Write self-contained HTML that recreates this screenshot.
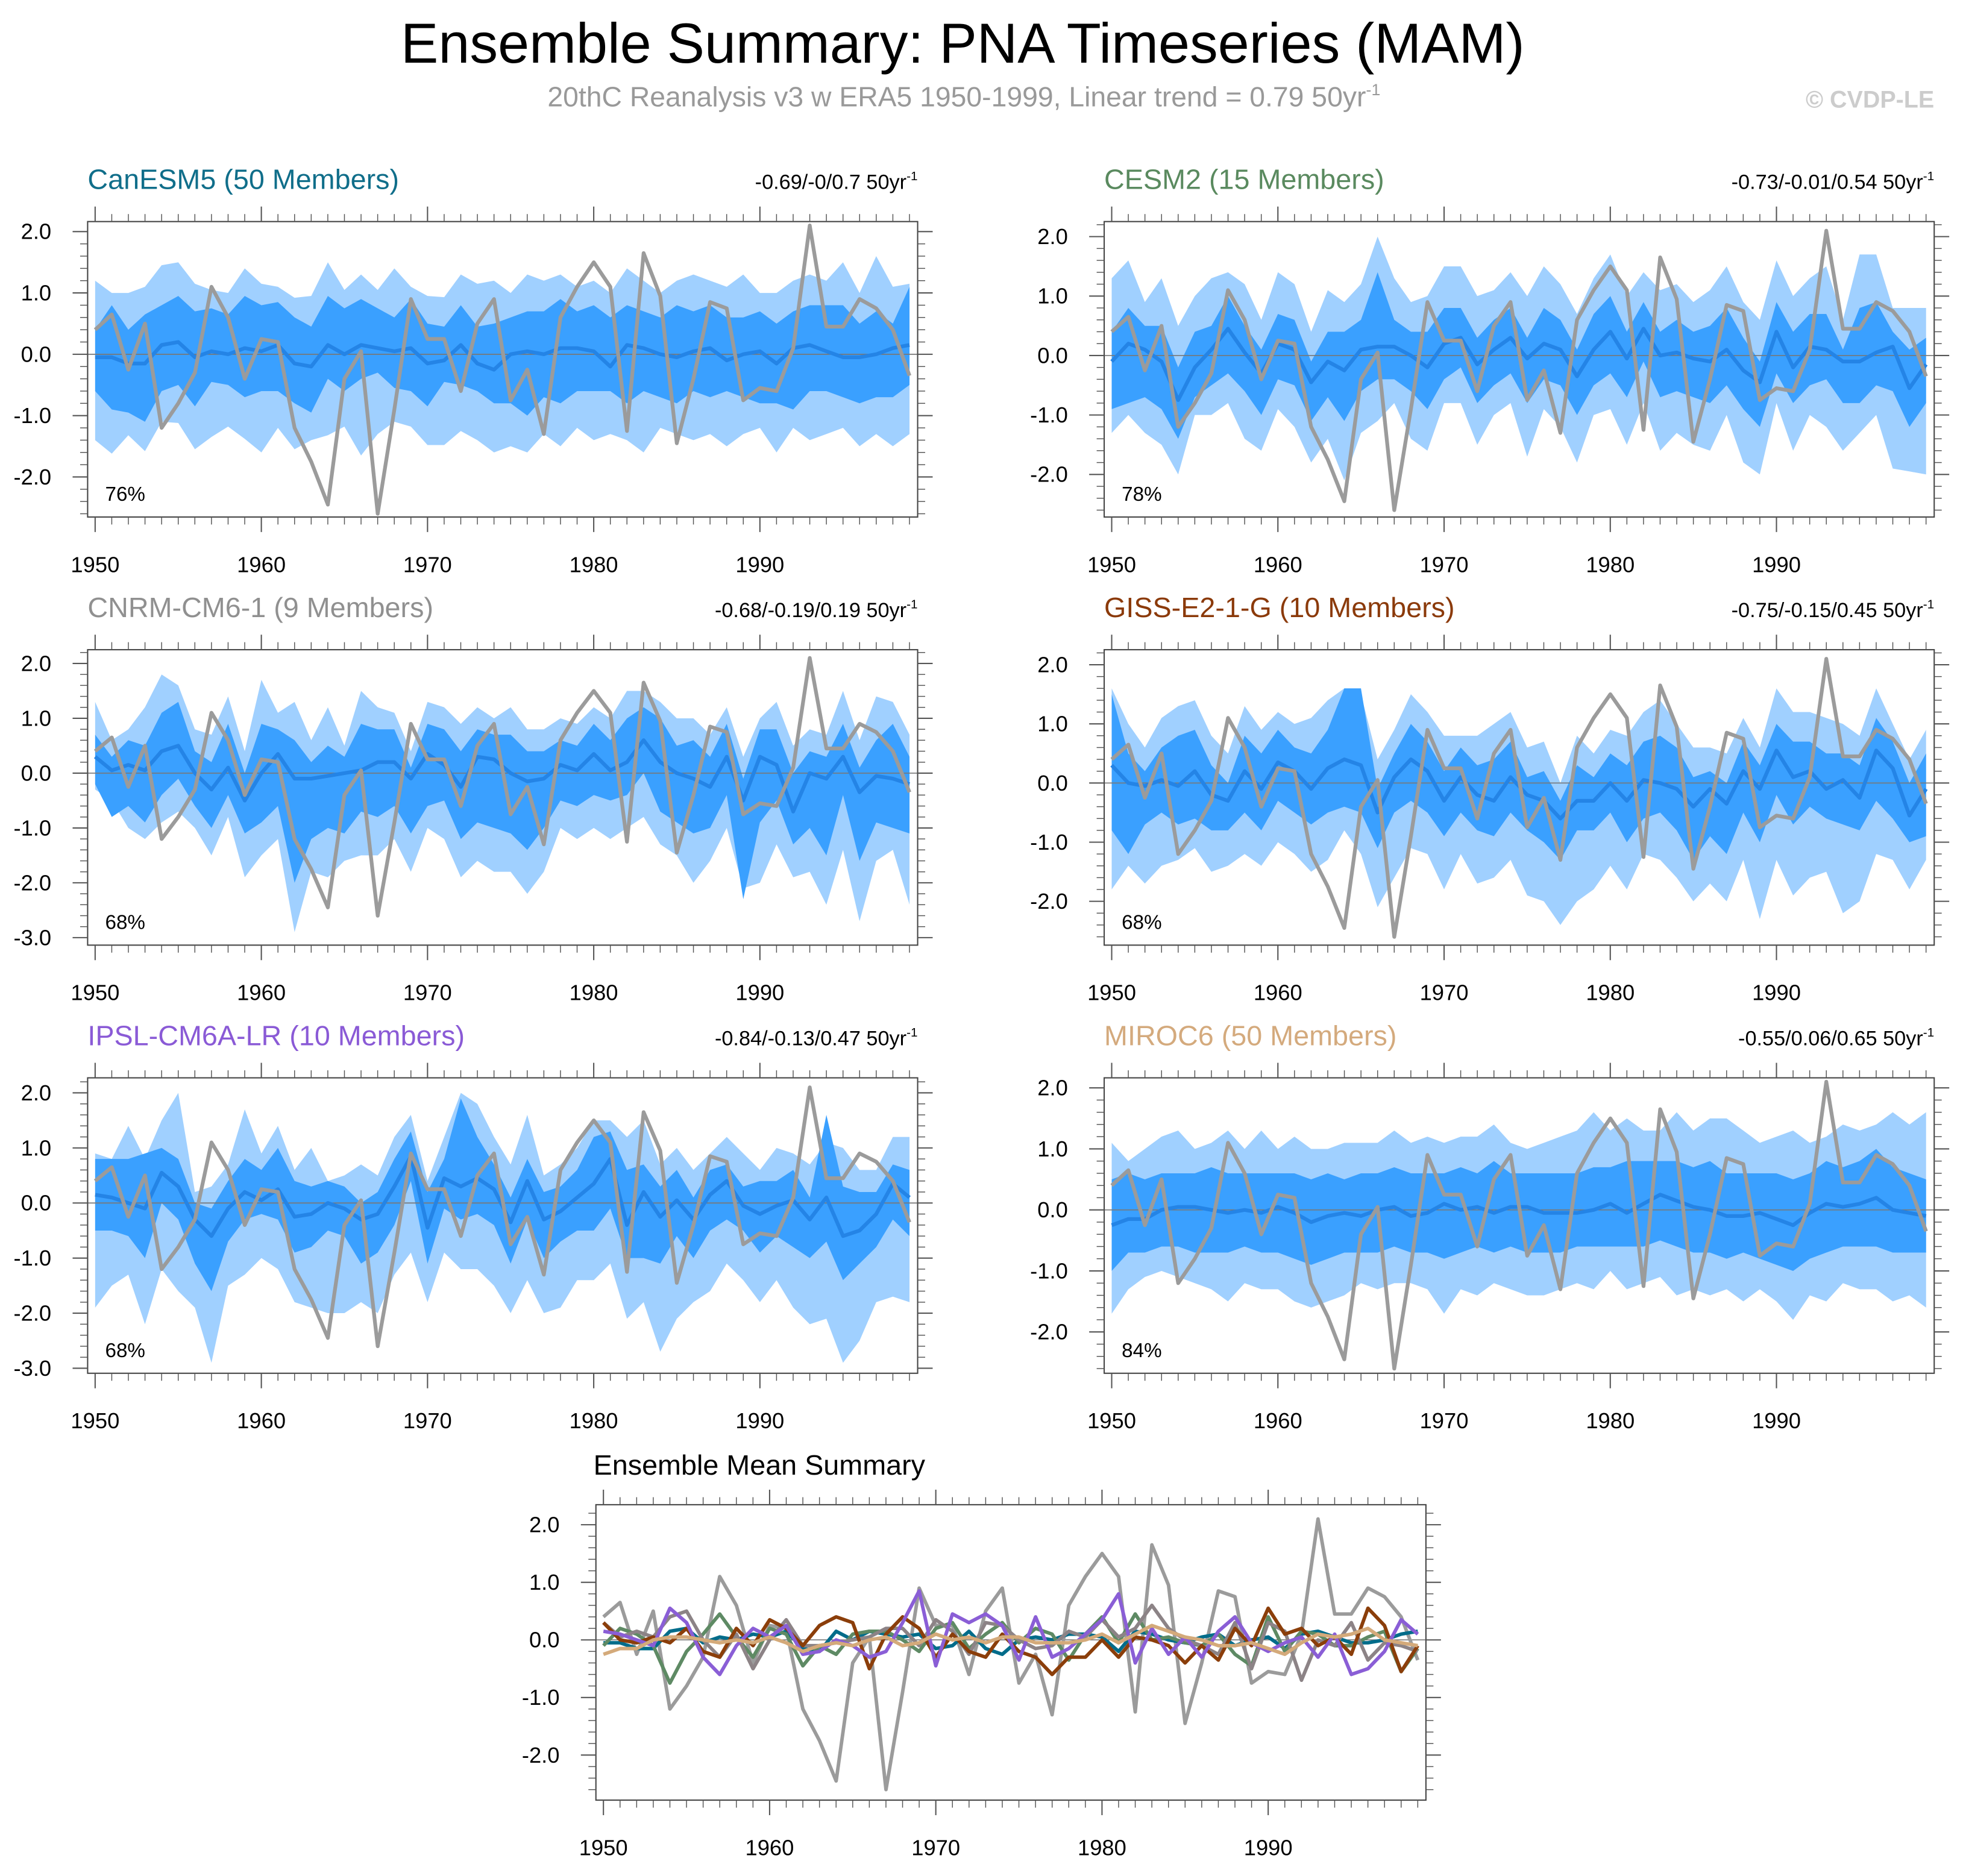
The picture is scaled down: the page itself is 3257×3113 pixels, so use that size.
<!DOCTYPE html>
<html><head><meta charset="utf-8"><style>
html,body{margin:0;padding:0;background:#fff;}
svg{display:block;font-family:"Liberation Sans",sans-serif;}
</style></head><body>
<svg id="chart" width="3257" height="3113" viewBox="0 0 1568 1498.6" preserveAspectRatio="none" xmlns="http://www.w3.org/2000/svg">
<text x="769" y="50" font-size="45" text-anchor="middle" fill="#000">Ensemble Summary: PNA Timeseries (MAM)</text>
<text x="770" y="85" font-size="22.3" text-anchor="middle" fill="#999">20thC Reanalysis v3 w ERA5 1950-1999, Linear trend = 0.79 50yr<tspan font-size="13" dy="-9">-1</tspan></text>
<text x="1545" y="86" font-size="19" font-weight="bold" text-anchor="end" fill="#ccc">© CVDP-LE</text>
<g id="plots"></g>
</svg>
<script>
const years = Array.from({length:50},(_,i)=>1950+i);
const obs = [0.4,0.65,-0.25,0.5,-1.2,-0.8,-0.3,1.1,0.6,-0.4,0.25,0.2,-1.2,-1.75,-2.45,-0.4,0.05,-2.6,-0.9,0.9,0.25,0.25,-0.6,0.5,0.9,-0.75,-0.25,-1.3,0.6,1.1,1.5,1.1,-1.25,1.65,0.95,-1.45,-0.4,0.85,0.75,-0.75,-0.55,-0.6,0.1,2.1,0.45,0.45,0.9,0.75,0.4,-0.35];

const canMean = [-0.05,-0.05,-0.15,-0.15,0.15,0.2,-0.05,0.05,0,0.1,0.05,0.15,-0.15,-0.2,0.15,0,0.15,0.1,0.05,0.1,-0.15,-0.1,0.15,-0.15,-0.25,0,0.05,0,0.1,0.1,0.05,-0.2,0.15,0.1,0,-0.05,0.05,0.1,-0.1,0,0.05,-0.15,0.1,0.15,0.05,-0.05,-0.05,0,0.1,0.15];
const canDarkHi = [0.4,0.8,0.4,0.65,0.8,0.95,0.7,0.75,0.65,0.95,0.8,0.85,0.6,0.45,0.95,0.75,0.9,0.75,0.6,0.9,0.5,0.45,0.8,0.45,0.5,0.6,0.7,0.7,0.9,0.7,0.8,0.6,0.8,0.7,0.6,0.8,0.7,0.8,0.6,0.6,0.7,0.5,0.7,0.8,0.8,0.8,0.5,0.7,0.5,1.1];
const canDarkLo = [-0.6,-0.9,-0.95,-1.1,-0.6,-0.5,-0.85,-0.45,-0.5,-0.7,-0.6,-0.6,-0.8,-0.95,-0.4,-0.6,-0.4,-0.3,-0.55,-0.6,-0.85,-0.45,-0.5,-0.6,-0.8,-0.8,-1.0,-0.7,-0.8,-0.6,-0.6,-0.6,-0.8,-0.6,-0.7,-0.8,-0.6,-0.7,-0.6,-0.7,-0.8,-0.8,-0.9,-0.6,-0.6,-0.7,-0.8,-0.7,-0.7,-0.5];
const canLightHi = [1.2,1.0,1.0,1.1,1.45,1.5,1.15,1.05,1.0,1.4,1.15,1.1,0.92,0.95,1.5,1.05,1.3,1.05,1.4,1.1,0.95,0.93,1.3,1.15,1.2,1.0,1.3,1.2,1.3,1.1,1.2,1.0,1.4,1.2,1.0,1.2,1.3,1.2,1.1,1.3,1.0,1.0,1.2,1.3,1.2,1.5,1.0,1.6,1.1,1.15];
const canLightLo = [-1.4,-1.62,-1.32,-1.58,-1.1,-1.12,-1.55,-1.35,-1.18,-1.38,-1.6,-1.2,-1.55,-1.4,-1.32,-1.18,-1.65,-1.3,-1.1,-1.18,-1.48,-1.48,-1.25,-1.4,-1.6,-1.5,-1.6,-1.3,-1.5,-1.2,-1.4,-1.3,-1.4,-1.6,-1.2,-1.3,-1.4,-1.3,-1.5,-1.3,-1.2,-1.6,-1.2,-1.4,-1.3,-1.2,-1.5,-1.3,-1.5,-1.3];

const cesmMean = [-0.1,0.2,0.1,-0.1,-0.75,-0.2,0.1,0.45,0.05,-0.3,0.2,0.1,-0.45,-0.1,-0.25,0.1,0.15,0.15,0,-0.2,0.2,0.3,-0.15,0.1,0.3,-0.05,0.2,0.1,-0.35,0.1,0.4,-0.05,0.45,0,0.05,-0.05,-0.1,0.1,-0.25,-0.45,0.4,-0.2,0.15,0.1,-0.1,-0.1,0.05,0.15,-0.55,-0.15];
const cesmDarkHi = [0.4,0.8,0.5,0.5,-0.2,0.4,0.5,1.0,0.5,0.1,0.7,0.6,-0.1,0.4,0.4,0.6,1.4,0.6,0.4,0.4,0.8,0.8,0.3,0.6,0.8,0.3,0.8,0.6,0.1,0.7,1.0,0.4,0.9,0.4,0.6,0.4,0.5,0.8,0.3,-0.1,0.9,0.4,0.7,0.7,0.1,0.8,0.9,0.4,0.1,0.3];
const cesmDarkLo = [-0.9,-0.8,-0.7,-0.9,-1.4,-0.7,-0.5,-0.3,-0.6,-1.0,-0.4,-0.5,-1.1,-0.7,-1.1,-0.6,-0.4,-0.4,-0.6,-0.9,-0.4,-0.2,-0.8,-0.5,-0.3,-0.8,-0.4,-0.5,-1.0,-0.5,-0.3,-0.7,-0.1,-0.7,-0.6,-0.7,-0.8,-0.5,-0.9,-1.2,-0.3,-0.8,-0.5,-0.4,-0.8,-0.8,-0.5,-0.6,-1.2,-0.8];
const cesmLightHi = [1.3,1.6,0.9,1.3,0.5,1.0,1.3,1.4,1.2,0.6,1.4,1.2,0.4,1.1,0.9,1.2,2.0,1.3,0.9,1.0,1.5,1.5,1.0,1.1,1.4,1.0,1.5,1.2,0.7,1.3,1.7,1.0,1.4,1.1,1.2,0.9,1.1,1.5,0.9,0.6,1.6,1.0,1.3,1.5,0.6,1.7,1.7,0.8,0.8,0.8];
const cesmLightLo = [-1.3,-1.0,-1.3,-1.5,-2.0,-1.0,-1.0,-0.8,-1.4,-1.6,-0.9,-1.2,-1.8,-1.4,-2.1,-1.3,-1.1,-0.8,-1.4,-1.6,-0.8,-0.8,-1.5,-1.0,-0.8,-1.7,-0.9,-1.2,-1.8,-1.0,-0.9,-1.5,-0.8,-1.6,-1.3,-1.5,-1.6,-1.0,-1.8,-2.0,-0.8,-1.6,-1.0,-1.2,-1.6,-1.3,-1.0,-1.9,-1.95,-2.0];

const cnrmMean = [0.3,0.05,0.15,0.05,0.4,0.5,0,-0.3,0.1,-0.5,0,0.35,-0.1,-0.1,-0.05,0,0.05,0.2,0.2,-0.1,0.35,0.15,-0.25,0.3,0.25,0,-0.15,-0.1,0.15,0.05,0.35,0.05,0.2,0.6,0.2,0,-0.1,-0.25,0.3,-0.5,0.3,0.15,-0.7,0,-0.1,0.3,-0.35,-0.05,-0.1,-0.2];
const cnrmDarkHi = [0.7,0.3,0.6,0.5,1.1,1.3,0.4,0.2,0.9,0.0,0.9,0.8,0.6,0.2,0.5,0.3,0.9,0.8,0.8,0.1,0.9,0.8,0.4,0.8,0.7,0.7,0.4,0.4,0.6,0.5,0.9,0.6,1.0,1.2,1.0,0.5,0.6,0.3,0.9,-0.1,0.8,0.8,0.0,0.4,0.3,0.9,0.1,0.6,0.9,0.3];
const cnrmDarkLo = [-0.2,-0.8,-0.6,-0.9,-0.4,-0.1,-0.6,-1.0,-0.4,-1.1,-0.9,-0.6,-2.0,-1.2,-1.0,-1.1,-0.7,-0.8,-0.6,-1.1,-0.6,-0.5,-1.2,-0.9,-1.0,-1.1,-1.4,-1.0,-0.5,-0.6,-0.4,-0.5,-0.4,0.0,-0.7,-0.9,-1.1,-1.0,-0.4,-2.3,-0.9,-0.5,-1.3,-1.0,-1.5,-0.4,-1.6,-0.9,-1.0,-1.1];
const cnrmLightHi = [1.3,0.6,0.8,1.2,1.8,1.6,0.8,0.7,1.4,0.4,1.7,1.1,1.3,0.6,1.2,0.5,1.5,1.2,1.1,0.4,1.3,1.2,0.9,1.2,1.0,1.2,0.8,0.8,1.0,0.9,1.2,1.0,1.5,1.5,1.3,1.0,1.0,0.7,1.2,0.3,1.0,1.3,0.5,0.8,0.7,1.5,0.6,1.4,1.3,0.7];
const cnrmLightLo = [-0.3,-0.5,-1.0,-1.2,-0.9,-0.7,-1.0,-1.5,-0.8,-1.9,-1.5,-1.2,-2.9,-1.8,-1.9,-1.6,-1.5,-1.5,-1.2,-1.8,-1.0,-1.2,-1.9,-1.6,-1.8,-1.8,-2.2,-1.8,-1.0,-1.2,-1.0,-1.2,-1.0,-0.8,-1.3,-1.5,-2.0,-1.6,-1.0,-2.1,-2.0,-1.3,-1.9,-1.8,-2.4,-1.4,-2.7,-1.6,-1.4,-2.4];

const gissMean = [0.3,0,-0.05,0.05,-0.05,0.2,-0.2,-0.3,0.2,-0.1,0.35,0.2,-0.1,0.25,0.4,0.3,-0.5,0.1,0.4,0.2,-0.3,0.1,-0.2,-0.3,0.1,-0.2,-0.3,-0.6,-0.3,-0.3,0,-0.3,0.05,0,-0.1,-0.4,-0.1,-0.35,0.2,-0.1,0.55,0.1,0.2,-0.1,0.05,-0.25,0.55,0.25,-0.55,-0.1];
const gissDarkHi = [1.5,0.5,0.2,0.6,0.8,0.9,0.3,0.0,0.8,0.5,0.9,0.6,0.5,0.9,1.6,1.6,-0.1,0.5,1.0,0.7,0.2,0.6,0.3,0.4,0.7,0.1,0.2,-0.3,0.3,0.1,0.5,0.3,0.7,0.8,0.6,0.1,0.2,0.0,0.7,0.3,1.0,0.7,0.7,0.5,0.5,0.3,1.1,0.7,0.0,0.5];
const gissDarkLo = [-0.8,-1.2,-0.7,-0.5,-0.7,-0.6,-0.8,-0.8,-0.5,-0.8,-0.3,-0.5,-0.7,-0.5,-0.4,-0.5,-1.1,-0.5,-0.3,-0.5,-0.9,-0.5,-0.8,-0.9,-0.5,-0.8,-1.0,-1.3,-0.8,-0.8,-0.5,-1.0,-0.6,-0.5,-0.8,-1.3,-0.9,-1.2,-0.5,-1.0,-0.2,-0.7,-0.4,-0.6,-0.7,-0.8,-0.3,-0.6,-1.0,-0.9];
const gissLightHi = [1.6,1.0,0.6,1.1,1.3,1.4,0.8,0.5,1.3,0.9,1.2,1.0,1.1,1.4,1.6,1.5,0.4,0.9,1.5,1.2,0.8,0.8,0.8,1.0,1.2,0.6,0.7,0.0,0.8,0.5,0.9,0.8,1.2,1.4,1.0,0.6,0.6,0.5,1.1,0.6,1.6,1.2,1.2,1.1,1.0,0.8,1.6,1.0,0.4,0.9];
const gissLightLo = [-1.8,-1.4,-1.7,-1.4,-1.3,-1.1,-1.5,-1.4,-1.2,-1.4,-1.0,-1.2,-1.5,-1.3,-0.8,-1.2,-2.1,-1.6,-1.1,-1.2,-1.8,-1.2,-1.7,-1.6,-1.3,-1.9,-2.0,-2.4,-2.0,-1.8,-1.4,-1.8,-1.2,-1.3,-1.6,-2.0,-1.7,-2.0,-1.3,-2.3,-1.3,-1.9,-1.6,-1.5,-2.2,-2.0,-1.2,-1.3,-1.8,-1.3];

const ipslMean = [0.15,0.1,0,-0.1,0.55,0.3,-0.3,-0.6,-0.1,0.2,0.05,0.25,-0.25,-0.2,0,-0.1,-0.3,-0.2,0.3,0.85,-0.45,0.45,0.3,0.45,0.25,-0.35,0.4,-0.3,-0.15,0.1,0.35,0.8,-0.4,0.2,-0.25,0.05,-0.3,0.15,0.4,-0.05,-0.2,-0.05,0.05,-0.3,0.1,-0.6,-0.5,-0.2,0.35,0.1];
const ipslDarkHi = [0.8,0.8,0.8,0.9,1.0,0.8,0.0,-0.1,0.4,0.8,0.6,1.0,0.4,0.3,0.4,0.3,0.0,0.2,0.8,1.3,0.2,0.8,1.9,1.2,0.7,0.1,0.8,0.2,0.3,0.6,1.2,1.3,0.6,0.7,0.3,0.6,0.1,0.6,0.7,0.3,0.4,0.4,0.6,0.1,1.6,0.3,0.2,0.2,0.7,0.6];
const ipslDarkLo = [-0.5,-0.5,-0.6,-1.0,0.0,-0.3,-1.1,-1.6,-0.7,-0.3,-0.2,-0.3,-0.9,-0.8,-0.5,-0.6,-1.1,-0.9,-0.4,0.4,-1.1,-0.1,-0.3,-0.2,-0.4,-1.1,-0.3,-1.0,-0.7,-0.5,-0.5,-0.1,-1.0,-1.0,-1.1,-0.6,-1.0,-0.5,-0.3,-0.5,-0.9,-0.6,-0.8,-1.0,-0.7,-1.4,-1.1,-0.8,-0.3,-0.6];
const ipslLightHi = [0.9,0.8,1.4,0.8,1.5,2.0,0.2,0.3,0.7,1.7,0.9,1.4,0.6,1.0,0.4,0.5,0.7,0.5,1.2,1.6,0.4,1.2,2.0,1.8,1.2,0.7,1.6,0.5,0.7,1.0,1.5,1.5,1.2,1.5,0.7,1.0,0.6,0.9,1.2,0.9,0.6,1.0,0.9,0.7,1.1,1.0,0.6,0.6,1.2,1.2];
const ipslLightLo = [-1.9,-1.5,-1.3,-2.2,-1.2,-1.6,-1.9,-2.9,-1.5,-1.3,-1.0,-1.2,-1.8,-1.9,-2.0,-2.0,-1.8,-2.0,-1.3,-0.9,-1.8,-0.9,-1.2,-1.2,-1.5,-2.0,-1.4,-2.0,-1.9,-1.4,-1.4,-1.1,-2.1,-1.8,-2.7,-2.1,-1.8,-1.6,-1.1,-1.4,-1.8,-1.4,-1.9,-2.2,-2.1,-2.9,-2.5,-1.8,-1.7,-1.8];

const mirocMean = [-0.25,-0.15,-0.15,0,0.05,0.05,0,-0.05,0,-0.05,0.05,-0.05,-0.2,-0.1,-0.05,-0.1,0,0.05,-0.1,-0.05,0.1,0,0.05,-0.05,0.05,0.05,-0.05,-0.05,-0.05,0,0.1,-0.05,0.1,0.25,0.15,0.05,0,-0.1,-0.1,-0.05,-0.15,-0.25,-0.05,0.1,0.05,0.1,0.2,0,-0.05,-0.1];
const mirocDarkHi = [0.5,0.6,0.5,0.6,0.6,0.6,0.7,0.6,0.6,0.6,0.6,0.6,0.5,0.6,0.5,0.6,0.6,0.7,0.6,0.6,0.6,0.7,0.6,0.8,0.6,0.6,0.6,0.6,0.6,0.7,0.7,0.8,0.8,0.8,0.8,0.7,0.8,0.6,0.6,0.6,0.6,0.5,0.6,0.8,0.7,0.8,1.0,0.7,0.6,0.5];
const mirocDarkLo = [-1.0,-0.7,-0.7,-0.6,-0.6,-0.7,-0.7,-0.7,-0.6,-0.7,-0.7,-0.8,-0.9,-0.8,-0.7,-0.7,-0.7,-0.6,-0.7,-0.7,-0.8,-0.7,-0.6,-0.7,-0.6,-0.7,-0.7,-0.7,-0.6,-0.6,-0.6,-0.6,-0.6,-0.5,-0.6,-0.7,-0.7,-0.8,-0.7,-0.8,-0.9,-1.0,-0.8,-0.7,-0.6,-0.6,-0.6,-0.7,-0.7,-0.7];
const mirocLightHi = [1.1,0.8,1.0,1.2,1.3,1.0,1.1,1.3,1.0,1.3,1.0,1.2,1.0,1.0,1.1,1.1,1.1,1.3,1.1,1.2,1.1,1.2,1.2,1.4,1.1,1.0,1.1,1.2,1.3,1.6,1.3,1.5,1.3,1.3,1.6,1.3,1.5,1.5,1.3,1.1,1.2,1.3,1.1,1.2,1.4,1.3,1.4,1.6,1.4,1.6];
const mirocLightLo = [-1.7,-1.3,-1.1,-1.0,-1.1,-1.2,-1.3,-1.5,-1.2,-1.3,-1.3,-1.5,-1.6,-1.5,-1.4,-1.2,-1.3,-1.2,-1.2,-1.3,-1.7,-1.3,-1.4,-1.2,-1.3,-1.4,-1.4,-1.3,-1.2,-1.3,-1.0,-1.3,-1.2,-1.1,-1.4,-1.3,-1.4,-1.3,-1.5,-1.3,-1.5,-1.8,-1.4,-1.5,-1.2,-1.3,-1.3,-1.5,-1.4,-1.6];

const yTicksA = [-2,-1,0,1,2];
const yTicksB = [-3,-2,-1,0,1,2];
const xTicks = [1950,1960,1970,1980,1990];

const NS = 'http://www.w3.org/2000/svg';
const root = document.getElementById('plots');
function el(tag, attrs, parent){const e=document.createElementNS(NS,tag);for(const k in attrs)e.setAttribute(k,attrs[k]);(parent||root).appendChild(e);return e;}

const models = [
 {key:'canesm5',title:'CanESM5 (50 Members)',col:'#106e8a',line:'#006c8a',trend:'-0.69/-0/0.7',pct:'76%',mean:canMean,dh:canDarkHi,dl:canDarkLo,lh:canLightHi,ll:canLightLo,bx:70,by:177,z:283,u:49,yt:yTicksA},
 {key:'cesm2',title:'CESM2 (15 Members)',col:'#5a8a5f',line:'#5e8a64',trend:'-0.73/-0.01/0.54',pct:'78%',mean:cesmMean,dh:cesmDarkHi,dl:cesmDarkLo,lh:cesmLightHi,ll:cesmLightLo,bx:882,by:177,z:284,u:47.5,yt:yTicksA},
 {key:'cnrm-cm6-1',title:'CNRM-CM6-1 (9 Members)',col:'#909090',line:'#8c8386',trend:'-0.68/-0.19/0.19',pct:'68%',mean:cnrmMean,dh:cnrmDarkHi,dl:cnrmDarkLo,lh:cnrmLightHi,ll:cnrmLightLo,bx:70,by:519,z:617.6,u:43.8,yt:yTicksB},
 {key:'giss-e2-1-g',title:'GISS-E2-1-G (10 Members)',col:'#8b3a0a',line:'#8b3e0a',trend:'-0.75/-0.15/0.45',pct:'68%',mean:gissMean,dh:gissDarkHi,dl:gissDarkLo,lh:gissLightHi,ll:gissLightLo,bx:882,by:519,z:625.5,u:47.25,yt:yTicksA},
 {key:'ipsl-cm6a-lr',title:'IPSL-CM6A-LR (10 Members)',col:'#8a5ad6',line:'#8a5ed6',trend:'-0.84/-0.13/0.47',pct:'68%',mean:ipslMean,dh:ipslDarkHi,dl:ipslDarkLo,lh:ipslLightHi,ll:ipslLightLo,bx:70,by:861,z:961,u:44,yt:yTicksB},
 {key:'miroc6',title:'MIROC6 (50 Members)',col:'#d4aa7d',line:'#d4aa7a',trend:'-0.55/0.06/0.65',pct:'84%',mean:mirocMean,dh:mirocDarkHi,dl:mirocDarkLo,lh:mirocLightHi,ll:mirocLightLo,bx:882,by:861,z:966.5,u:48.75,yt:yTicksA}
];
const W=663,H=236,YR=13.275;

function axes(p,g){
  const xs=y=>p.bx+6+(y-1950)*YR;
  const ys=v=>p.z-v*p.u;
  const zl=el('line',{x1:p.bx,x2:p.bx+W,y1:ys(0),y2:ys(0),stroke:'#777','stroke-width':0.8},g);
  
  
  const frame=el('rect',{x:p.bx,y:p.by,width:W,height:H,fill:'none',stroke:'#444','stroke-width':1},g);
  
  
  for(let y=1950;y<=1999;y++){
    const X=xs(y), maj=(y%10===0), L=maj?12:6;
    el('line',{x1:X,x2:X,y1:p.by+H,y2:p.by+H+L,stroke:'#555','stroke-width':maj?1:0.7},g);
    el('line',{x1:X,x2:X,y1:p.by,y2:p.by-L,stroke:'#555','stroke-width':maj?1:0.7},g);
  }
  xTicks.forEach(t=>{
    const tx=el('text',{x:xs(t),y:p.by+H+44,'font-size':17.5,'text-anchor':'middle',fill:'#000'},g);
    tx.textContent=t;
    
    
  });
  const vmin=(p.z-(p.by+H))/p.u, vmax=(p.z-p.by)/p.u;
  for(let k=Math.ceil(vmin*5);k<=Math.floor(vmax*5);k++){
    const v=k/5, Y=ys(v), maj=(k%5===0), L=maj?12:6;
    el('line',{x1:p.bx,x2:p.bx-L,y1:Y,y2:Y,stroke:'#555','stroke-width':maj?1:0.7},g);
    el('line',{x1:p.bx+W,x2:p.bx+W+L,y1:Y,y2:Y,stroke:'#555','stroke-width':maj?1:0.7},g);
  }
  p.yt.forEach(t=>{
    const tx=el('text',{x:p.bx-29,y:ys(t)+6,'font-size':17.5,'text-anchor':'end',fill:'#000'},g);
    tx.textContent=t.toFixed(1);
    
    
  });
  return {xs,ys};
}
function linePath(arr,xs,ys){return arr.map((v,i)=>(i?'L':'M')+xs(years[i]).toFixed(1)+','+ys(v).toFixed(1)).join('');}
function bandPath(lo,hi,xs,ys){
  let d=hi.map((v,i)=>(i?'L':'M')+xs(years[i]).toFixed(1)+','+ys(v).toFixed(1)).join('');
  for(let i=lo.length-1;i>=0;i--) d+='L'+xs(years[i]).toFixed(1)+','+ys(lo[i]).toFixed(1);
  return d+'Z';
}

models.forEach(p=>{
  const g=el('g',{});
  
  
  const t=el('text',{x:p.bx,y:p.by-26,'font-size':22.5,fill:p.col},g);
  t.textContent=p.title;
  
  
  const tr=el('text',{x:p.bx+W,y:p.by-26,'font-size':16.5,'text-anchor':'end',fill:'#000'},g);
  tr.innerHTML=p.trend+' 50yr<tspan font-size="10" dy="-7">-1</tspan>';
  
  
  const xs0=y=>p.bx+6+(y-1950)*YR, ys0=v=>p.z-v*p.u;
  const lb=el('path',{d:bandPath(p.ll,p.lh,xs0,ys0),fill:'#a0d0ff',stroke:'none'},g);
  
  
  const db=el('path',{d:bandPath(p.dl,p.dh,xs0,ys0),fill:'#3aa0ff',stroke:'none'},g);
  
  
  const {xs,ys}=axes(p,g);
  const ml=el('path',{d:linePath(p.mean,xs,ys),fill:'none',stroke:'#2484e6','stroke-width':3,'stroke-linejoin':'round'},g);
  
  
  const ol=el('path',{d:linePath(obs,xs,ys),fill:'none',stroke:'#9b9b9b','stroke-width':3,'stroke-linejoin':'round'},g);
  
  
  const pc=el('text',{x:p.bx+14,y:p.by+H-13,'font-size':16,fill:'#000'},g);
  pc.textContent=p.pct;
  
  
});

const sp={bx:476,by:1202,z:1310,u:46,yt:yTicksA};
const sg=el('g',{});


const st=el('text',{x:sp.bx-2,y:sp.by-24,'font-size':22.5,fill:'#000'},sg);
st.textContent='Ensemble Mean Summary';


const sa=axes(sp,sg);
const so=el('path',{d:linePath(obs,sa.xs,sa.ys),fill:'none',stroke:'#9b9b9b','stroke-width':2.8,'stroke-linejoin':'round'},sg);


models.forEach(p=>{
  const l=el('path',{d:linePath(p.mean,sa.xs,sa.ys),fill:'none',stroke:p.line,'stroke-width':2.8,'stroke-linejoin':'round'},sg);
  
  
});
</script>
</body></html>
